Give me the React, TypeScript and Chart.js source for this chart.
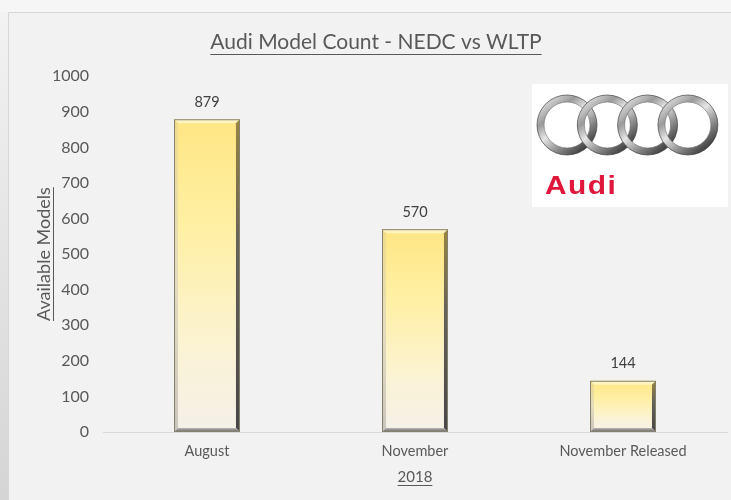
import React, { useEffect, useRef } from 'react';
import { Chart, registerables } from 'chart.js';

Chart.register(...registerables);

// ---- data ----
const categories: string[] = ['August', 'November', 'November Released'];
const modelCounts: number[] = [879, 570, 144];
const yMin = 0;
const yMax = 1000;
const yStep = 100;
const chartTitle = 'Audi Model Count - NEDC vs WLTP';
const yAxisTitle = 'Available Models';
const xAxisTitle = '2018';
const logoText = 'Audi';

// ---- style ----
const FONT = 'Lato, "Open Sans", "DejaVu Sans", sans-serif';
const TEXT = '#595959';
const TITLE_SIZE = 21;
const TITLE_PAD_TOP = 30;
const TITLE_PAD_BOTTOM = 21;
const Y_TITLE_SIZE = 18;
const X_TITLE_SIZE = 15;
const Y_TITLE_PAD_TOP = 8;
const X_TITLE_PAD_BOTTOM = 14;
const PAD_LEFT = 25;

const backgroundPlugin = {
  id: 'bgFrame',
  beforeDraw(chart: any) {
    const { ctx, width, height } = chart;
    ctx.save();
    ctx.fillStyle = '#f2f2f2';
    ctx.fillRect(0, 0, width, height);
    ctx.fillStyle = '#f6f6f6';
    ctx.fillRect(0, 0, width, 12);
    const g = ctx.createLinearGradient(0, 0, 0, height);
    g.addColorStop(0, '#f3f3f3');
    g.addColorStop(1, '#d5d5d5');
    ctx.fillStyle = g;
    ctx.fillRect(0, 12, 8, height - 12);
    ctx.strokeStyle = '#d6d6d6';
    ctx.lineWidth = 1;
    ctx.beginPath();
    ctx.moveTo(8.5, height);
    ctx.lineTo(8.5, 12.5);
    ctx.lineTo(width, 12.5);
    ctx.stroke();
    ctx.restore();
  },
};

const underlinePlugin = {
  id: 'underlines',
  afterDraw(chart: any) {
    const { ctx } = chart;
    ctx.save();
    ctx.strokeStyle = TEXT;
    ctx.lineWidth = 1;
    // chart title
    const tb = chart.titleBlock;
    if (tb) {
      ctx.font = `${TITLE_SIZE}px ${FONT}`;
      const w = ctx.measureText(chartTitle).width;
      const cx = (tb.left + tb.right) / 2;
      const cy = tb.top + TITLE_PAD_TOP + (TITLE_SIZE * 1.2) / 2;
      const uy = Math.round(cy + TITLE_SIZE * 0.52) + 0.5;
      ctx.beginPath();
      ctx.moveTo(cx - w / 2, uy);
      ctx.lineTo(cx + w / 2, uy);
      ctx.stroke();
    }
    // y title (rotated)
    const ys = chart.scales.y;
    {
      ctx.font = `${Y_TITLE_SIZE}px ${FONT}`;
      const w = ctx.measureText(yAxisTitle).width;
      const tx = ys.left + Y_TITLE_PAD_TOP + (Y_TITLE_SIZE * 1.2) / 2;
      const ty = (ys.top + ys.bottom) / 2;
      const ux = Math.round(tx + Y_TITLE_SIZE * 0.5) + 0.5;
      ctx.beginPath();
      ctx.moveTo(ux, ty - w / 2);
      ctx.lineTo(ux, ty + w / 2);
      ctx.stroke();
    }
    // x title
    const xs = chart.scales.x;
    {
      ctx.font = `${X_TITLE_SIZE}px ${FONT}`;
      const w = ctx.measureText(xAxisTitle).width;
      const tx = (xs.left + xs.right) / 2;
      const ty = xs.bottom - X_TITLE_PAD_BOTTOM - (X_TITLE_SIZE * 1.2) / 2;
      const uy = Math.round(ty + X_TITLE_SIZE * 0.55) + 0.5;
      ctx.beginPath();
      ctx.moveTo(tx - w / 2, uy);
      ctx.lineTo(tx + w / 2, uy);
      ctx.stroke();
    }
    ctx.restore();
  },
};

const bevelPlugin = {
  id: 'bevelBars',
  afterDatasetsDraw(chart: any) {
    const { ctx } = chart;
    const meta = chart.getDatasetMeta(0);
    ctx.save();
    meta.data.forEach((el: any, i: number) => {
      const { x, y, base, width } = el.getProps(['x', 'y', 'base', 'width'], true);
      const l = x - width / 2;
      const r = x + width / 2;
      const t = y;
      const b = base;
      const bv = 4;
      // top bevel
      ctx.fillStyle = '#fff5c2';
      ctx.beginPath();
      ctx.moveTo(l, t); ctx.lineTo(r, t); ctx.lineTo(r - bv, t + bv); ctx.lineTo(l + bv, t + bv); ctx.closePath();
      ctx.fill();
      // left bevel
      const lg = ctx.createLinearGradient(0, t, 0, b);
      lg.addColorStop(0, '#f0dc8a');
      lg.addColorStop(0.5, '#e6dcc0');
      lg.addColorStop(1, '#c9c6bd');
      ctx.fillStyle = lg;
      ctx.beginPath();
      ctx.moveTo(l, t); ctx.lineTo(l + bv, t + bv); ctx.lineTo(l + bv, b - bv); ctx.lineTo(l, b); ctx.closePath();
      ctx.fill();
      // right bevel
      const rg = ctx.createLinearGradient(0, t, 0, b);
      rg.addColorStop(0, '#9a8440');
      rg.addColorStop(0.4, '#66625a');
      rg.addColorStop(1, '#464646');
      ctx.fillStyle = rg;
      ctx.beginPath();
      ctx.moveTo(r, t); ctx.lineTo(r, b); ctx.lineTo(r - bv, b - bv); ctx.lineTo(r - bv, t + bv); ctx.closePath();
      ctx.fill();
      // bottom bevel
      const bg = ctx.createLinearGradient(0, b - bv, 0, b);
      bg.addColorStop(0, '#b8b6b0');
      bg.addColorStop(1, '#626262');
      ctx.fillStyle = bg;
      ctx.beginPath();
      ctx.moveTo(l, b); ctx.lineTo(r, b); ctx.lineTo(r - bv, b - bv); ctx.lineTo(l + bv, b - bv); ctx.closePath();
      ctx.fill();
      // outline
      ctx.strokeStyle = '#85816e';
      ctx.lineWidth = 1;
      ctx.strokeRect(l + 0.5, t + 0.5, width - 1, b - t - 1);
      // value label
      ctx.fillStyle = '#404040';
      ctx.font = `14.5px ${FONT}`;
      ctx.textAlign = 'center';
      ctx.textBaseline = 'middle';
      ctx.fillText(String(modelCounts[i]), x, t - 17);
    });
    ctx.restore();
  },
};

const logoPlugin = {
  id: 'audiLogo',
  afterDraw(chart: any) {
    const { ctx } = chart;
    ctx.save();
    ctx.fillStyle = '#ffffff';
    ctx.fillRect(532, 84, 196, 123);
    const R = 26.5;
    const cy = 125;
    const startX = 567;
    const step = 40.3;
    for (let i = 0; i < 4; i++) {
      const cx = startX + i * step;
      const g = ctx.createLinearGradient(cx - R, cy - R, cx + R * 0.6, cy + R);
      g.addColorStop(0, '#f2f2f2');
      g.addColorStop(0.3, '#9a9a9a');
      g.addColorStop(0.5, '#e6e6e6');
      g.addColorStop(0.75, '#8c8c8c');
      g.addColorStop(1, '#3c3c3c');
      ctx.strokeStyle = g;
      ctx.lineWidth = 7;
      ctx.beginPath();
      ctx.arc(cx, cy, R, 0, Math.PI * 2);
      ctx.stroke();
      ctx.strokeStyle = 'rgba(70,70,70,0.7)';
      ctx.lineWidth = 1;
      ctx.beginPath();
      ctx.arc(cx, cy, R + 3.5, 0, Math.PI * 2);
      ctx.stroke();
      ctx.strokeStyle = 'rgba(110,110,110,0.6)';
      ctx.beginPath();
      ctx.arc(cx, cy, R - 3.5, 0, Math.PI * 2);
      ctx.stroke();
    }
    ctx.fillStyle = '#e0173a';
    ctx.font = `bold 26px "Liberation Sans", Arial, sans-serif`;
    ctx.textAlign = 'left';
    ctx.textBaseline = 'alphabetic';
    ctx.translate(545, 194);
    ctx.scale(1.15, 1);
    let px = 0;
    for (const ch of logoText) {
      ctx.fillText(ch, px, 0);
      px += ctx.measureText(ch).width + 1.3;
    }
    ctx.restore();
  },
};

export default function App() {
  const canvasRef = useRef<HTMLCanvasElement | null>(null);

  useEffect(() => {
    document.body.style.margin = '0';
    document.body.style.background = '#f2f2f2';
    const canvas = canvasRef.current;
    if (!canvas) return;
    const chart = new Chart(canvas, {
      type: 'bar',
      data: {
        labels: categories,
        datasets: [
          {
            label: yAxisTitle,
            data: modelCounts,
            categoryPercentage: 1,
            barPercentage: 0.317,
            borderWidth: 0,
            backgroundColor: (c: any) => {
              const ch = c.chart;
              if (c.type !== 'data' || !ch.chartArea) return '#fff0a0';
              const ys = ch.scales.y;
              const top = ys.getPixelForValue(c.raw);
              const base = ys.getPixelForValue(0);
              const g = ch.ctx.createLinearGradient(0, top, 0, base);
              g.addColorStop(0, '#ffe684');
              g.addColorStop(0.35, '#fff0a4');
              g.addColorStop(0.75, '#fbf3d6');
              g.addColorStop(1, '#f4f0e8');
              return g;
            },
          },
        ],
      },
      options: {
        animation: false,
        responsive: true,
        maintainAspectRatio: false,
        layout: { padding: { left: PAD_LEFT, right: 4, top: 0, bottom: 0 } },
        plugins: {
          legend: { display: false },
          tooltip: { enabled: false },
          title: {
            display: true,
            text: chartTitle,
            color: TEXT,
            font: { family: FONT, size: TITLE_SIZE, weight: 'normal' },
            padding: { top: TITLE_PAD_TOP, bottom: TITLE_PAD_BOTTOM },
          },
        },
        scales: {
          x: {
            grid: { display: false, drawTicks: false },
            border: { display: true, color: '#d9d9d9', width: 1 },
            ticks: {
              color: TEXT,
              font: { family: FONT, size: 14.5 },
              padding: 11,
              maxRotation: 0,
              autoSkip: false,
            },
            title: {
              display: true,
              text: xAxisTitle,
              color: TEXT,
              font: { family: FONT, size: X_TITLE_SIZE },
              padding: { top: 0, bottom: X_TITLE_PAD_BOTTOM },
            },
            afterFit: (s: any) => {
              s.height = 68;
            },
          },
          y: {
            min: yMin,
            max: yMax,
            grid: { display: false, drawTicks: false },
            border: { display: false },
            ticks: {
              stepSize: yStep,
              color: TEXT,
              font: { family: FONT, size: 16 },
              padding: 14,
              callback: (v: any) => String(v),
            },
            title: {
              display: true,
              text: yAxisTitle,
              color: TEXT,
              font: { family: FONT, size: Y_TITLE_SIZE },
              padding: { top: Y_TITLE_PAD_TOP, bottom: 0 },
            },
            afterFit: (s: any) => {
              s.width = 103 - PAD_LEFT;
            },
          },
        },
      },
      plugins: [backgroundPlugin, bevelPlugin, logoPlugin, underlinePlugin],
    });
    return () => chart.destroy();
  }, []);

  return (
    <div style={{ position: 'relative', width: 731, height: 500 }}>
      <canvas ref={canvasRef} />
    </div>
  );
}
